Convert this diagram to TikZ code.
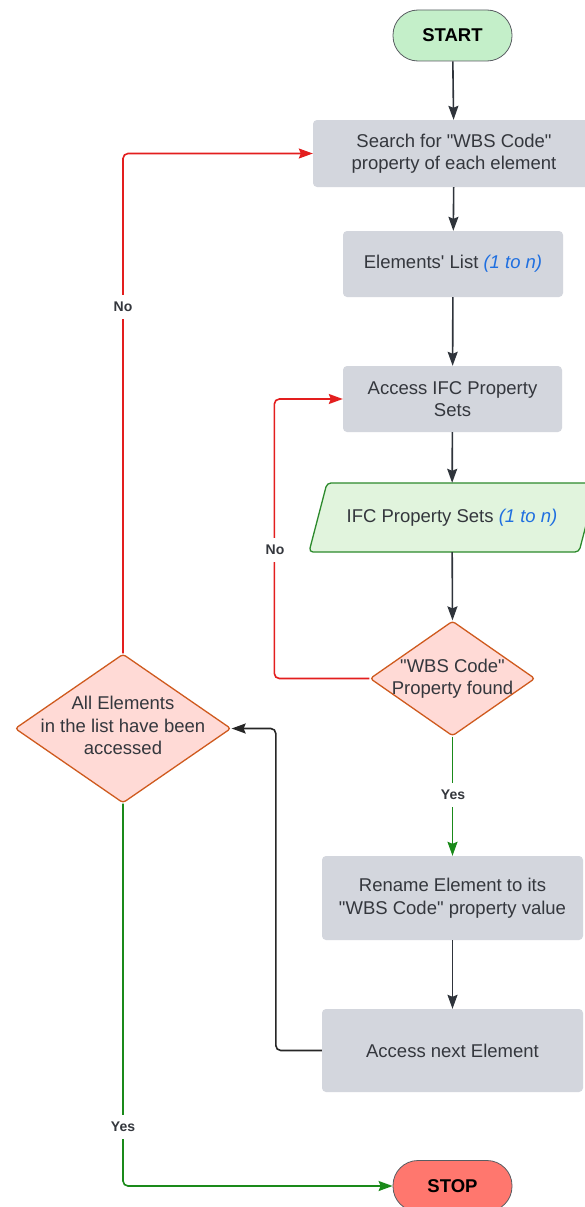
\documentclass[tikz,border=0pt]{standalone}
\usepackage{fontspec}
\setmainfont{Liberation Sans}[Ligatures=TeXOff]
\usetikzlibrary{shapes.geometric,arrows.meta}
\definecolor{boxgray}{HTML}{D3D6DD}
\definecolor{txt}{HTML}{34373D}
\definecolor{ln}{HTML}{2F343B}
\definecolor{startg}{HTML}{C4EFC9}
\definecolor{stopr}{HTML}{FF776E}
\definecolor{diafill}{HTML}{FFDAD6}
\definecolor{diadraw}{HTML}{CF5A1E}
\definecolor{parafill}{HTML}{E1F4DD}
\definecolor{paradraw}{HTML}{2C8A2C}
\definecolor{redln}{HTML}{E31E1E}
\definecolor{grnln}{HTML}{1A8A1A}
\definecolor{bluet}{HTML}{1F6FE0}
\tikzset{
  box/.style={draw=none, fill=boxgray, rounded corners=4pt, inner sep=0pt,
    align=center, text=txt, font=\fontsize{18.5}{22.5}\selectfont},
  term/.style={draw=ln!80, line width=0.8pt, rounded corners=25pt, inner sep=0pt,
    minimum width=119pt, minimum height=51pt, text=black,
    font=\fontsize{18.5}{22}\selectfont\bfseries},
  dia/.style={diamond, draw=diadraw, fill=diafill, line width=1.3pt,
    rounded corners=3pt, inner sep=0pt},
  ttext/.style={align=center, text=txt, font=\fontsize{18.5}{22.5}\selectfont, inner sep=0pt},
  lbl/.style={fill=white, text=txt, inner xsep=2pt, inner ysep=7pt, font=\fontsize{14}{16}\selectfont\bfseries},
  tip/.style={-{Stealth[length=14pt,width=10pt,inset=2pt]}},
  arr/.style={draw=ln, line width=1.6pt, rounded corners=5pt, tip},
  redarr/.style={arr, draw=redln},
  grnarr/.style={arr, draw=grnln},
  blk/.style={arr, draw=black!85},
}
\begin{document}
\begin{tikzpicture}[x=1pt,y=-1pt]
\useasboundingbox (0,0) rectangle (584,1207);
\fill[white] (0,0) rectangle (584,1207);

\node[term, fill=startg] (start) at (452.5,35.5) {START};
\node[box, minimum width=282pt, minimum height=67pt] (search) at (454,153.5)
  {Search for "WBS Code"\\property of each element};
\node[box, minimum width=220pt, minimum height=66pt] (elist) at (453,264)
  {Elements' List \textcolor{bluet}{\itshape (1 to n)}};
\node[box, minimum width=219pt, minimum height=66pt] (ifc) at (452.5,399)
  {Access IFC Property\\Sets};
\path[fill=parafill, draw=paradraw, line width=1.3pt, rounded corners=4pt]
  (309,552) -- (327,483) -- (597,483) -- (579,552) -- cycle;
\node[ttext, minimum width=250pt, minimum height=69pt] (ps) at (452,517.5)
  {IFC Property Sets \textcolor{bluet}{\itshape (1 to n)}};
\node[dia, minimum width=165pt, minimum height=115pt] (d1) at (452.5,678.5) {};
\node[ttext] (d1t) at (d1.center) {"WBS Code"\\Property found};
\node[dia, minimum width=216pt, minimum height=149pt] (d2) at (123,728.5) {};
\node[ttext] (d2t) at ([yshift=3pt]d2.center) {All Elements\\in the list have been\\accessed};
\node[box, minimum width=261pt, minimum height=84pt] (rename) at (452.5,898)
  {Rename Element to its\\"WBS Code" property value};
\node[box, minimum width=261pt, minimum height=83pt] (next) at (452.5,1050.5)
  {Access next Element};
\node[term, fill=stopr] (stop) at (452.5,1186) {STOP};

\draw[arr] (start) -- (search);
\draw[arr] (search) -- (elist);
\draw[arr] (elist) -- (ifc);
\draw[arr] (ifc) -- (ps);
\draw[arr] (ps) -- (d1.north);
\draw[redarr] (d1.west) -- ++(-95,0) |- (ifc.west);
\draw[grnarr] (d1.south) -- (rename.north);
\draw[arr] (rename) -- (next);
\draw[blk] (next.west) -- ++(-46,0) |- (d2.east);
\draw[redarr] (d2.north) |- (search.west);
\draw[grnarr] (d2.south) |- (stop.west);

\node[lbl] (no1) at (123,307) {No};
\node[lbl] (no2) at (275,550) {No};
\node[lbl] (yes1) at (453,795) {Yes};
\node[lbl] (yes2) at (123,1127) {Yes};
\end{tikzpicture}
\end{document}
